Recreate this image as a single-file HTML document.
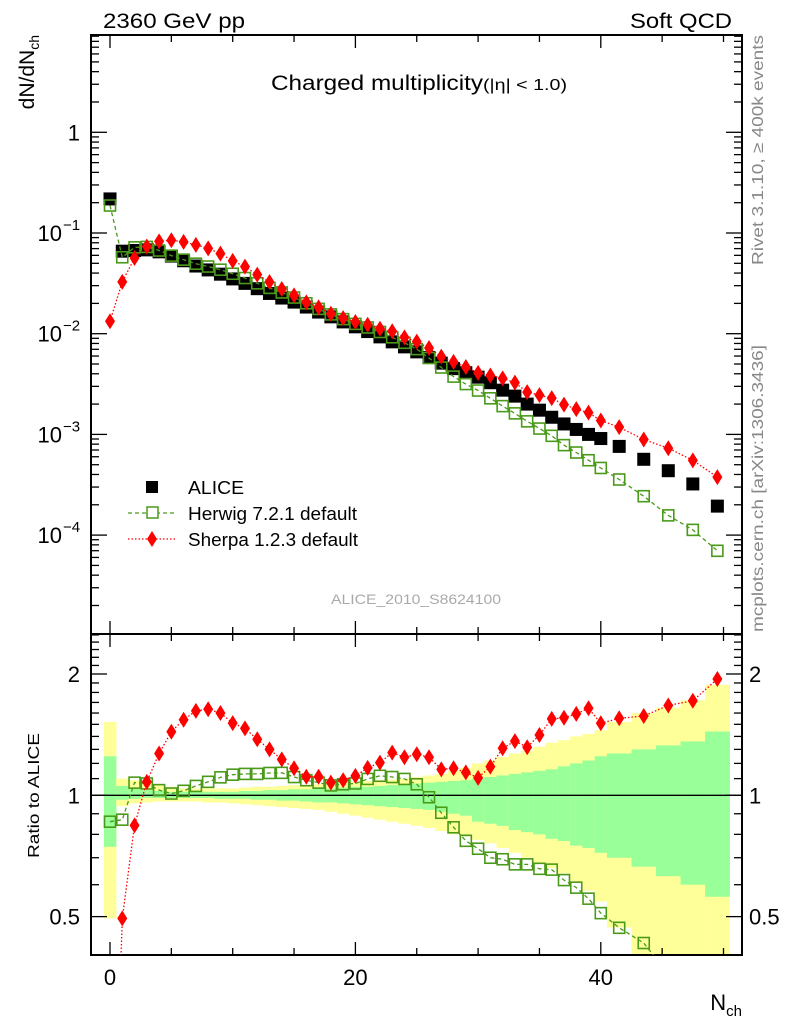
<!DOCTYPE html>
<html><head><meta charset="utf-8"><style>
html,body{margin:0;padding:0;background:#fff;width:786px;height:1024px;overflow:hidden;}
svg{display:block;font-family:"Liberation Sans",sans-serif;}
</style></head><body>
<svg id="chart" width="786" height="1024" viewBox="0 0 786 1024" xmlns="http://www.w3.org/2000/svg">
<g id="bands"></g>
<g id="axes"></g>
<g id="series"></g>
<text x="103" y="28" font-size="21" textLength="142" lengthAdjust="spacingAndGlyphs">2360 GeV pp</text>
<text x="630" y="28" font-size="21" textLength="102" lengthAdjust="spacingAndGlyphs">Soft QCD</text>
<text x="271" y="90" font-size="21"><tspan textLength="212" lengthAdjust="spacingAndGlyphs">Charged multiplicity</tspan><tspan font-size="16" textLength="84" lengthAdjust="spacingAndGlyphs">(|η| &lt; 1.0)</tspan></text>
<text transform="translate(34,35) rotate(-90)" font-size="21" text-anchor="end">dN/dN<tspan font-size="14" dy="5">ch</tspan></text>
<text transform="translate(39,858) rotate(-90)" font-size="16" textLength="125" lengthAdjust="spacingAndGlyphs">Ratio to ALICE</text>
<text x="742" y="1010" font-size="22" text-anchor="end">N<tspan font-size="15" dy="6">ch</tspan></text>
<text transform="translate(763,265) rotate(-90)" font-size="16" fill="#888" textLength="230" lengthAdjust="spacingAndGlyphs">Rivet 3.1.10, ≥ 400k events</text>
<text transform="translate(763,632) rotate(-90)" font-size="16" fill="#888" textLength="287" lengthAdjust="spacingAndGlyphs">mcplots.cern.ch [arXiv:1306.3436]</text>
<text x="331" y="604" font-size="14" fill="#aaa" textLength="170" lengthAdjust="spacingAndGlyphs">ALICE_2010_S8624100</text>
<g id="legend">
  <rect x="146" y="481" width="12" height="12" fill="#000"/>
  <text x="188" y="494" font-size="18" textLength="56" lengthAdjust="spacingAndGlyphs">ALICE</text>
  <line x1="128" y1="513" x2="176" y2="513" stroke="#4a9a1a" stroke-width="1.3" stroke-dasharray="4,3"/>
  <rect x="147" y="507" width="11" height="11" fill="#fff" stroke="#4a9a1a" stroke-width="1.5"/>
  <text x="188" y="520" font-size="18" textLength="169" lengthAdjust="spacingAndGlyphs">Herwig 7.2.1 default</text>
  <line x1="128" y1="539" x2="176" y2="539" stroke="#f00" stroke-width="1.3" stroke-dasharray="1.5,2"/>
  <polygon points="152,531 157,539 152,547 147,539" fill="#f00"/>
  <text x="188" y="546" font-size="18" textLength="170" lengthAdjust="spacingAndGlyphs">Sherpa 1.2.3 default</text>
</g>
</svg>
<script>
// ---- data ----
const nch = [0,1,2,3,4,5,6,7,8,9,10,11,12,13,14,15,16,17,18,19,20,21,22,23,24,25,26,27,28,29,30,31,32,33,34,35,36,37,38,39,40,41.5,43.5,45.5,47.5,49.5];
const binLo = [-0.5,0.5,1.5,2.5,3.5,4.5,5.5,6.5,7.5,8.5,9.5,10.5,11.5,12.5,13.5,14.5,15.5,16.5,17.5,18.5,19.5,20.5,21.5,22.5,23.5,24.5,25.5,26.5,27.5,28.5,29.5,30.5,31.5,32.5,33.5,34.5,35.5,36.5,37.5,38.5,39.5,40.5,42.5,44.5,46.5,48.5];
const binHi = [0.5,1.5,2.5,3.5,4.5,5.5,6.5,7.5,8.5,9.5,10.5,11.5,12.5,13.5,14.5,15.5,16.5,17.5,18.5,19.5,20.5,21.5,22.5,23.5,24.5,25.5,26.5,27.5,28.5,29.5,30.5,31.5,32.5,33.5,34.5,35.5,36.5,37.5,38.5,39.5,40.5,42.5,44.5,46.5,48.5,50.5];
const alice = [0.218,0.066,0.067,0.068,0.065,0.059,0.053,0.047,0.043,0.039,0.035,0.0316,0.028,0.0251,0.0226,0.0206,0.0184,0.0164,0.0147,0.0131,0.0117,0.0105,0.0093,0.0083,0.0074,0.0066,0.0058,0.0051,0.0045,0.0041,0.0037,0.00326,0.00275,0.0024,0.0020,0.00174,0.00148,0.00127,0.00112,0.0010,0.00091,0.00076,0.000566,0.000436,0.000322,0.000194];
const herwigRatio = [0.86,0.87,1.075,1.07,1.03,1.01,1.026,1.055,1.08,1.108,1.125,1.13,1.13,1.136,1.137,1.11,1.09,1.075,1.058,1.065,1.07,1.098,1.118,1.11,1.098,1.065,0.989,0.905,0.833,0.771,0.737,0.70,0.694,0.674,0.674,0.657,0.654,0.616,0.59,0.554,0.51,0.469,0.43,0.36,0.35,0.36];
const sherpaRatio = [0.061,0.495,0.842,1.08,1.27,1.438,1.54,1.62,1.635,1.6,1.51,1.466,1.377,1.30,1.228,1.167,1.112,1.112,1.075,1.09,1.117,1.17,1.205,1.276,1.243,1.264,1.243,1.16,1.167,1.14,1.105,1.178,1.308,1.363,1.316,1.411,1.547,1.557,1.592,1.644,1.509,1.553,1.573,1.671,1.716,1.943];
const yellowHi = [1.52,1.10,1.09,1.08,1.06,1.05,1.04,1.04,1.04,1.04,1.04,1.045,1.05,1.05,1.055,1.06,1.06,1.065,1.07,1.075,1.08,1.085,1.09,1.095,1.10,1.11,1.12,1.13,1.15,1.17,1.20,1.22,1.245,1.27,1.29,1.32,1.35,1.37,1.40,1.42,1.45,1.52,1.60,1.65,1.72,1.88];
const yellowLo = [0.495,0.94,0.955,0.96,0.965,0.965,0.965,0.965,0.96,0.96,0.955,0.95,0.945,0.94,0.935,0.93,0.925,0.92,0.91,0.90,0.89,0.88,0.87,0.86,0.85,0.84,0.83,0.815,0.80,0.79,0.775,0.76,0.74,0.72,0.70,0.68,0.66,0.64,0.61,0.58,0.545,0.47,0.30,0.30,0.30,0.30];
const greenHi = [1.25,1.055,1.04,1.03,1.025,1.02,1.02,1.02,1.02,1.02,1.02,1.025,1.025,1.03,1.03,1.035,1.035,1.04,1.04,1.045,1.05,1.05,1.055,1.06,1.065,1.07,1.075,1.08,1.085,1.09,1.10,1.11,1.12,1.13,1.14,1.15,1.16,1.18,1.20,1.22,1.25,1.27,1.30,1.33,1.36,1.44];
const greenLo = [0.745,0.975,0.98,0.985,0.985,0.985,0.985,0.985,0.985,0.98,0.98,0.98,0.975,0.975,0.97,0.97,0.965,0.96,0.96,0.955,0.95,0.945,0.94,0.935,0.93,0.925,0.92,0.91,0.90,0.89,0.86,0.85,0.84,0.82,0.81,0.80,0.78,0.77,0.75,0.74,0.72,0.70,0.665,0.63,0.60,0.56];
const xTickMajor = [0,20,40];
const xTickLabels = ["0","20","40"];
const mainDecades = [1,0.1,0.01,0.001,0.0001];
const mainDecadeLabels = ["1","10|−1","10|−2","10|−3","10|−4"];
const ratioTicks = [0.5,1,2];
const ratioTickLabels = ["0.5","1","2"];

// ---- geometry ----
const L=91, R=742, MT=35, MB=634, RT=634, RB=955;
const X = n => 110 + n*12.27;
const Y = v => 132.3 - Math.log10(v)*100.7;
const RY = v => 795.3 - Math.log10(v)*403;
const NS="http://www.w3.org/2000/svg";
function mk(tag, attrs, parent){ const e=document.createElementNS(NS,tag); for(const k in attrs) e.setAttribute(k,attrs[k]); parent.appendChild(e); return e; }
const clamp=(y,a,b)=>Math.max(a,Math.min(b,y));

// ---- bands ----
const bands=document.getElementById('bands');
for(let i=0;i<nch.length;i++){
  const x0=X(binLo[i]), x1=X(binHi[i]);
  const yt=clamp(RY(yellowHi[i]),RT,RB), yb=clamp(RY(yellowLo[i]),RT,RB);
  const r=mk('rect',{x:x0,y:yt,width:x1-x0+0.3,height:yb-yt,fill:'#ffff99'},bands);
  
  
  const gt=clamp(RY(greenHi[i]),RT,RB), gb=clamp(RY(greenLo[i]),RT,RB);
  const g=mk('rect',{x:x0,y:gt,width:x1-x0+0.3,height:gb-gt,fill:'#99ff99'},bands);
  
  
}

// ---- axes ----
const ax=document.getElementById('axes');
mk('rect',{x:L,y:MT,width:R-L,height:MB-MT,fill:'none',stroke:'#000','stroke-width':2},ax);
mk('rect',{x:L,y:RT,width:R-L,height:RB-RT,fill:'none',stroke:'#000','stroke-width':2},ax);
const one=mk('line',{x1:L,y1:RY(1),x2:R,y2:RY(1),stroke:'#000','stroke-width':1.3},ax);


for(let n=0;n<=50;n+=5){
  const maj = xTickMajor.includes(n);
  const len = maj?13:7, x=X(n);
  [[MT,1],[MB,-1],[RT,1],[RB,-1]].forEach(([y,d])=>mk('line',{x1:x,y1:y,x2:x,y2:y+d*len,stroke:'#000','stroke-width':1.3},ax));
}
xTickMajor.forEach((n,i)=>{
  const t=mk('text',{x:X(n),y:985,'font-size':22,'text-anchor':'middle'},ax);
  t.textContent=xTickLabels[i];
  
  
});
for(let e=-5;e<=0;e++){
  for(let m=1;m<=9;m++){
    const v=m*Math.pow(10,e), y=Y(v);
    if(y<MT||y>MB) continue;
    const len=m===1?16:8;
    mk('line',{x1:L,y1:y,x2:L+len,y2:y,stroke:'#000','stroke-width':1.3},ax);
    mk('line',{x1:R,y1:y,x2:R-len,y2:y,stroke:'#000','stroke-width':1.3},ax);
  }
}
mainDecades.forEach((v,i)=>{
  const parts=mainDecadeLabels[i].split('|');
  const t=mk('text',{x:parts.length>1?62:80,y:Y(v)+8,'font-size':22,'text-anchor':'end'},ax);
  t.textContent=parts[0];
  
  
  if(parts.length>1){
    const s=mk('text',{x:63,y:Y(v)-3,'font-size':15},ax);
    s.textContent=parts[1];
    
    
  }
});
const rminor=[0.4,0.5,0.6,0.7,0.8,0.9,1,1.1,1.2,1.3,1.4,1.5,1.6,1.7,1.8,1.9,2,2.1,2.2,2.3,2.4,2.5];
rminor.forEach(v=>{
  const y=RY(v); if(y<RT||y>RB) return;
  const len=ratioTicks.includes(v)?16:8;
  mk('line',{x1:L,y1:y,x2:L+len,y2:y,stroke:'#000','stroke-width':1.3},ax);
  mk('line',{x1:R,y1:y,x2:R-len,y2:y,stroke:'#000','stroke-width':1.3},ax);
});
ratioTicks.forEach((v,i)=>{
  const t=mk('text',{x:80,y:RY(v)+8,'font-size':22,'text-anchor':'end'},ax);
  t.textContent=ratioTickLabels[i];
  
  
  const t2=mk('text',{x:749,y:RY(v)+8,'font-size':22},ax);
  t2.textContent=ratioTickLabels[i];
  
  
});

// ---- series ----
const se=document.getElementById('series');
const herwig = alice.map((a,i)=>a*herwigRatio[i]);
const sherpa = alice.map((a,i)=>a*sherpaRatio[i]);
function pathOf(vals,fy){
  return vals.map((v,i)=>(i?'L':'M')+X(nch[i]).toFixed(1)+','+fy(v).toFixed(1)).join(' ');
}
const defs=mk('defs',{},se);
const c1=mk('clipPath',{id:'clipMain'},defs); mk('rect',{x:L,y:MT,width:R-L,height:MB-MT},c1);
const c2=mk('clipPath',{id:'clipRatio'},defs); mk('rect',{x:L,y:RT,width:R-L,height:RB-RT},c2);
const gm=mk('g',{'clip-path':'url(#clipMain)'},se);
const gr=mk('g',{'clip-path':'url(#clipRatio)'},se);

alice.forEach((v,i)=>{
  const r=mk('rect',{x:X(nch[i])-6.5,y:Y(v)-6.5,width:13,height:13,fill:'#000'},gm);
  
  
});
function drawHerwig(g,vals,fy,name){
  const p=mk('path',{d:pathOf(vals,fy),fill:'none',stroke:'#4a9a1a','stroke-width':1.3,'stroke-dasharray':'4,3'},g);
  
  
  vals.forEach((v,i)=>{
    const r=mk('rect',{x:X(nch[i])-5.5,y:fy(v)-5.5,width:11,height:11,fill:'none',stroke:'#4a9a1a','stroke-width':1.6},g);
    
    
  });
}
function drawSherpa(g,vals,fy,name){
  const p=mk('path',{d:pathOf(vals,fy),fill:'none',stroke:'#f00','stroke-width':1.3,'stroke-dasharray':'1.5,2'},g);
  
  
  vals.forEach((v,i)=>{
    const x=X(nch[i]), y=fy(v);
    const d=mk('polygon',{points:`${x},${y-8} ${x+5},${y} ${x},${y+8} ${x-5},${y}`,fill:'#f00'},g);
    
    
  });
}
drawHerwig(gm,herwig,Y,'herwig');
drawSherpa(gm,sherpa,Y,'sherpa');
drawHerwig(gr,herwigRatio,RY,'herwig-ratio');
drawSherpa(gr,sherpaRatio,RY,'sherpa-ratio');
</script>
</body></html>
